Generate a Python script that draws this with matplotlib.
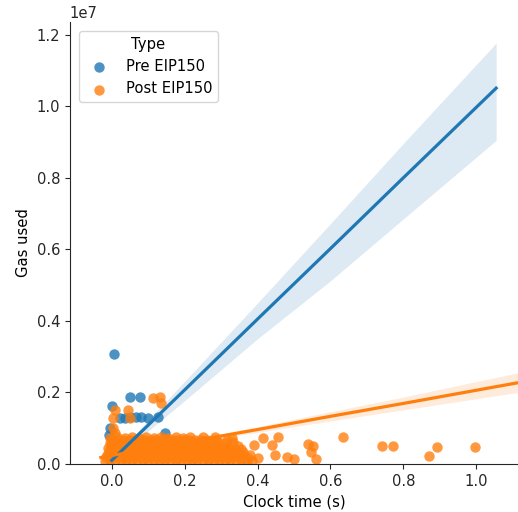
import numpy as np
import matplotlib
matplotlib.use("Agg")
import matplotlib.pyplot as plt

plt.rcParams["font.size"] = 10.6

# scatter data (clock time in s, gas used in millions)
pre_x = [0.006, 0.049, 0.077, 0.000, 0.022, 0.036, 0.050, 0.065, 0.080, 0.099,
         0.127, -0.005, 0.145, 0.350, -0.008, 0.060]
pre_y = [3.06, 1.88, 1.88, 1.62, 1.28, 1.29, 1.30, 1.30, 1.30, 1.28,
         1.31, 1.00, 0.87, 0.25, 0.80, 0.60]

post_x = [
    # upper outliers near zero
    0.113, 0.131, 0.136, 0.008, 0.004, 0.045, 0.049, 0.002, 0.010,
    # long tail
    0.415, 0.456, 0.390, 0.440, 0.447, 0.400, 0.482, 0.500, 0.538, 0.552,
    0.547, 0.561, 0.634, 0.743, 0.771, 0.871, 0.894, 0.997,
    # dense blob
    -0.019, -0.005, 0.010, 0.025, 0.040, 0.055, 0.070, 0.085, 0.100, 0.115,
    0.130, 0.145, 0.160, 0.175, 0.190, 0.205, 0.220, 0.235, 0.250, 0.265,
    0.280, 0.295, 0.310, 0.325, 0.340, 0.355, 0.370, 0.385,
    -0.015, 0.000, 0.015, 0.030, 0.045, 0.060, 0.075, 0.090, 0.105, 0.120,
    0.135, 0.150, 0.165, 0.180, 0.195, 0.210, 0.225, 0.240, 0.255, 0.270,
    0.285, 0.300, 0.315, 0.330, 0.345, 0.360, 0.375,
    -0.012, 0.003, 0.018, 0.033, 0.048, 0.063, 0.078, 0.093, 0.108, 0.123,
    0.138, 0.153, 0.168, 0.183, 0.198, 0.213, 0.228, 0.243, 0.258, 0.273,
    0.288, 0.303, 0.318, 0.333, 0.348, 0.363, 0.380,
    -0.008, 0.007, 0.022, 0.037, 0.052, 0.067, 0.082, 0.097, 0.112, 0.127,
    0.142, 0.157, 0.172, 0.187, 0.202, 0.217, 0.232, 0.247, 0.262, 0.277,
    0.292, 0.307, 0.322, 0.340, 0.360,
    -0.010, 0.005, 0.020, 0.035, 0.050, 0.065, 0.080, 0.095, 0.110, 0.125,
    0.140, 0.155, 0.170, 0.185, 0.200, 0.215, 0.230, 0.245, 0.260, 0.275,
    0.290, 0.305, 0.320, 0.337, 0.355,
    -0.003, 0.012, 0.027, 0.042, 0.057, 0.072, 0.087, 0.102, 0.117, 0.132,
    0.147, 0.162, 0.177, 0.192, 0.207, 0.222, 0.237, 0.255, 0.275, 0.298,
    0.320, 0.345,
    -0.006, 0.009, 0.024, 0.039, 0.054, 0.069, 0.084, 0.099, 0.114, 0.129,
    0.144, 0.159, 0.174, 0.189, 0.204, 0.219, 0.234, 0.250, 0.268, 0.290,
    0.310, 0.333,
    0.002, 0.017, 0.032, 0.047, 0.062, 0.077, 0.092, 0.107, 0.122, 0.137,
    0.152, 0.167, 0.182, 0.197, 0.212, 0.227, 0.242, 0.262, 0.290, 0.315,
    -0.004, 0.015, 0.035, 0.055, 0.075, 0.095, 0.115, 0.135, 0.155, 0.175,
    0.195, 0.215, 0.250, 0.282, 0.330,
]
post_y = [
    1.84, 1.88, 1.70, 1.51, 1.28, 1.51, 1.29, 1.00, 0.85,
    0.72, 0.74, 0.53, 0.53, 0.25, 0.17, 0.20, 0.13, 0.55, 0.50,
    0.34, 0.14, 0.74, 0.51, 0.49, 0.22, 0.47, 0.47,
    0.08, 0.10, 0.09, 0.11, 0.08, 0.10, 0.09, 0.11, 0.08, 0.10,
    0.09, 0.11, 0.08, 0.10, 0.09, 0.11, 0.08, 0.10, 0.09, 0.11,
    0.08, 0.10, 0.09, 0.11, 0.08, 0.10, 0.09, 0.08,
    0.18, 0.17, 0.19, 0.18, 0.17, 0.19, 0.18, 0.17, 0.19, 0.18,
    0.17, 0.19, 0.18, 0.17, 0.19, 0.18, 0.17, 0.19, 0.18, 0.17,
    0.19, 0.18, 0.17, 0.19, 0.18, 0.17, 0.16,
    0.26, 0.27, 0.25, 0.28, 0.26, 0.27, 0.25, 0.28, 0.26, 0.27,
    0.25, 0.28, 0.26, 0.27, 0.25, 0.28, 0.26, 0.27, 0.25, 0.28,
    0.26, 0.27, 0.25, 0.28, 0.26, 0.25, 0.24,
    0.35, 0.36, 0.34, 0.35, 0.36, 0.34, 0.35, 0.36, 0.34, 0.35,
    0.36, 0.34, 0.35, 0.36, 0.34, 0.35, 0.36, 0.34, 0.35, 0.36,
    0.34, 0.35, 0.34, 0.33, 0.32,
    0.43, 0.44, 0.42, 0.45, 0.43, 0.44, 0.42, 0.45, 0.43, 0.44,
    0.42, 0.45, 0.43, 0.44, 0.42, 0.45, 0.43, 0.44, 0.42, 0.45,
    0.43, 0.42, 0.44, 0.42, 0.41,
    0.52, 0.51, 0.53, 0.52, 0.51, 0.53, 0.52, 0.51, 0.53, 0.52,
    0.51, 0.53, 0.52, 0.51, 0.53, 0.52, 0.51, 0.53, 0.52, 0.51,
    0.50, 0.49,
    0.59, 0.60, 0.58, 0.61, 0.59, 0.60, 0.58, 0.61, 0.59, 0.60,
    0.58, 0.61, 0.59, 0.60, 0.58, 0.61, 0.59, 0.60, 0.58, 0.61,
    0.58, 0.60,
    0.67, 0.66, 0.68, 0.67, 0.66, 0.68, 0.67, 0.66, 0.68, 0.67,
    0.66, 0.68, 0.67, 0.66, 0.68, 0.67, 0.66, 0.68, 0.67, 0.66,
    0.72, 0.74, 0.73, 0.75, 0.72, 0.74, 0.73, 0.75, 0.72, 0.74,
    0.73, 0.74, 0.76, 0.76, 0.73,
]

# regression fits (gas in millions)
pre_fit_x = [0.0, 0.2, 0.4, 0.6, 0.8, 1.055]
pre_fit_y = [0.10, 2.07, 4.05, 6.02, 8.00, 10.51]
pre_ci_lo = [0.07, 1.77, 3.50, 5.12, 6.85, 9.05]
pre_ci_hi = [0.13, 2.31, 4.50, 6.72, 8.96, 11.77]

post_fit_x = [-0.03, 0.2, 0.4, 0.6, 0.8, 1.115]
post_fit_y = [0.18, 0.60, 0.96, 1.33, 1.69, 2.27]
post_ci_lo = [0.14, 0.56, 0.88, 1.20, 1.51, 2.00]
post_ci_hi = [0.22, 0.64, 1.04, 1.46, 1.87, 2.55]

blue = "#1f77b4"
orange = "#ff7f0e"
M = 1e6

fig = plt.figure(figsize=(5.18, 5.12), dpi=100)
ax = fig.add_axes([0.135, 0.094, 0.865, 0.863])

ax.scatter(pre_x, np.array(pre_y) * M, s=56, color=blue, alpha=0.8,
           linewidths=0, label="Pre EIP150", zorder=2)
ax.fill_between(pre_fit_x, np.array(pre_ci_lo) * M, np.array(pre_ci_hi) * M,
                color=blue, alpha=0.15, linewidth=0, zorder=1)
ax.plot(pre_fit_x, np.array(pre_fit_y) * M, color=blue, linewidth=2.3, zorder=3)

ax.scatter(post_x, np.array(post_y) * M, s=56, color=orange, alpha=0.8,
           linewidths=0, label="Post EIP150", zorder=2)
ax.fill_between(post_fit_x, np.array(post_ci_lo) * M, np.array(post_ci_hi) * M,
                color=orange, alpha=0.15, linewidth=0, zorder=1)
ax.plot(post_fit_x, np.array(post_fit_y) * M, color=orange, linewidth=2.3, zorder=3)

ax.set_xlim(-0.115, 1.115)
ax.set_ylim(0, 1.236e7)
ax.set_xticks([0.0, 0.2, 0.4, 0.6, 0.8, 1.0])
ax.set_yticks([0, 2e6, 4e6, 6e6, 8e6, 1e7, 1.2e7])
ax.set_xlabel("Clock time (s)")
ax.set_ylabel("Gas used")

for side in ["top", "right"]:
    ax.spines[side].set_visible(False)
for side in ["left", "bottom"]:
    ax.spines[side].set_color(".15")
ax.tick_params(colors=".15")

leg = ax.legend(title="Type", loc="upper left", borderaxespad=0.6)

fig.savefig("out.png", dpi=100)
